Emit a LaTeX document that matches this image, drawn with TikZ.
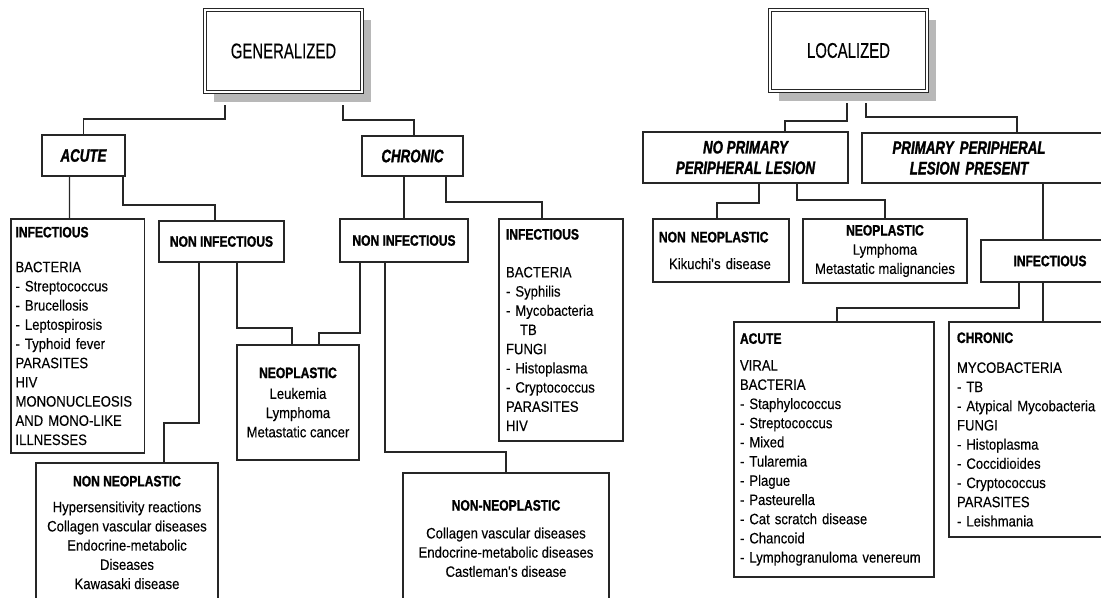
\documentclass[tikz,border=0pt]{standalone}
\usepackage{fontspec}
\setmainfont{Liberation Sans}[FakeStretch=0.87, FakeBold=0.25]
\newfontfamily\cabfont{Liberation Sans Bold}[FakeStretch=0.8, FakeBold=1.2]
\newfontfamily\titulofont{Liberation Sans}[FakeStretch=0.7, FakeBold=0.3]
\newfontfamily\ramafont{Liberation Sans Bold Italic}[FakeStretch=0.74, FakeBold=1.4]
\newcommand\cab[1]{{\cabfont #1}}
\usetikzlibrary{shadows}

\begin{document}
\begin{tikzpicture}[x=0.75pt, y=-0.75pt, line width=0.8pt, black!85,
  raiz/.style={draw, fill=white, double, double distance=1.65pt, line width=0.75pt, outer sep=0pt,
    drop shadow={shadow xshift=6.8pt, shadow yshift=-7.6pt, fill=black!28, opacity=1},
    text=black, font=\titulofont\fontsize{16}{19}\selectfont},
  rama/.style={draw, outer sep=0pt, inner sep=0pt, align=center, text=black,
    font=\ramafont\fontsize{13.5}{15.4}\selectfont},
  caja/.style={draw, outer sep=0pt, inner sep=0pt, align=center, text=black,
    font=\fontsize{11.3}{14.4}\selectfont},
  lista/.style={caja, anchor=north west, align=left}]
  \useasboundingbox (0,0) rectangle (1101,597);

  % Nodos raiz
  \node[raiz, minimum width=117.75pt, minimum height=61.5pt] (gen) at (283.5,51) {GENERALIZED};
  \node[raiz, minimum width=117.75pt, minimum height=60.75pt] (loc) at (848.5,50.5) {LOCALIZED};

  % Agudo y cronico
  \node[rama, minimum width=62.25pt, minimum height=30.75pt] (acute) at (83.5,155.5) {ACUTE};
  \node[rama, minimum width=75.75pt, minimum height=30pt] (chronic) at (412.5,156) {CHRONIC};

  % Rama aguda
  \node[lista, inner xsep=3.4pt, text width=93pt, minimum height=175.5pt] (infA) at (11,219) {\cab{INFECTIOUS}\\[11.7pt]
    BACTERIA\\
    - Streptococcus\\
    - Brucellosis\\
    - Leptospirosis\\
    - Typhoid fever\\
    PARASITES\\
    HIV\\
    MONONUCLEOSIS\\
    AND MONO-LIKE\\
    ILLNESSES};
  \node[caja, minimum width=93.75pt, minimum height=30.75pt] (nonA) at (221.5,241.5) {\cab{NON INFECTIOUS}};
  \node[caja, minimum width=136.5pt, minimum height=104.25pt] (nonneoA) at (127,532.5) {\cab{NON NEOPLASTIC}\\[5pt]
    Hypersensitivity reactions\\ Collagen vascular diseases\\ Endocrine-metabolic\\ Diseases\\ Kawasaki disease};

  % Rama cronica
  \node[caja, minimum width=96pt, minimum height=32.25pt] (nonC) at (404,240.5) {\cab{NON INFECTIOUS}};
  \node[lista, inner xsep=5.25pt, text width=82.5pt, minimum height=166.5pt] (infC) at (499,219) {\cab{INFECTIOUS}\\[14pt]
    BACTERIA\\
    - Syphilis\\
    - Mycobacteria\\
    \hspace*{10.5pt}TB\\
    FUNGI\\
    - Histoplasma\\
    - Cryptococcus\\
    PARASITES\\
    HIV};
  \node[caja, minimum width=154.5pt, minimum height=98.25pt] (nonneoC) at (506,538.5) {\cab{NON-NEOPLASTIC}\\[6.5pt]
    Collagen vascular diseases\\ Endocrine-metabolic diseases\\ Castleman\textquotesingle s disease};

  % Neoplasico comun
  \node[caja, minimum width=91.5pt, minimum height=86.25pt] (neoA) at (298,402.5) {\cab{NEOPLASTIC}\\[1.2pt]
    Leukemia\\ Lymphoma\\ Metastatic cancer};

  % Lado localizado
  \node[rama, minimum width=153.75pt, minimum height=38.25pt] (nopri) at (745.5,157.5) {NO PRIMARY\\PERIPHERAL LESION};
  \node[rama, anchor=north west, text width=193.5pt, align=left, minimum height=37.5pt] (pri) at (862,133)
    {\makebox[160.5pt]{PRIMARY PERIPHERAL}\\\makebox[160.5pt]{LESION PRESENT}};
  \node[lista, inner xsep=4.5pt, text width=93pt, minimum height=47.25pt] (nonneoR) at (653,219) {\cab{NON NEOPLASTIC}\\[5.7pt]
    \hspace*{7.5pt}Kikuchi\textquotesingle s disease};
  \node[caja, minimum width=123pt, minimum height=48pt] (neoR) at (885,251) {\cab{NEOPLASTIC}\\
    Lymphoma\\ Metastatic malignancies};
  \node[caja, minimum width=103.5pt, minimum height=31.5pt] (infR) at (1050,261) {\cab{INFECTIOUS}};
  \node[lista, inner xsep=4.5pt, text width=141pt, minimum height=191.25pt] (acuteR) at (734,322) {\cab{ACUTE}\\[5.7pt]
    VIRAL\\
    BACTERIA\\
    - Staphylococcus\\
    - Streptococcus\\
    - Mixed\\
    - Tularemia\\
    - Plague\\
    - Pasteurella\\
    - Cat scratch disease\\
    - Chancoid\\
    - Lymphogranuloma venereum};
  \node[lista, inner xsep=6pt, text width=116.25pt, minimum height=161.25pt] (chronR) at (949,322) {\cab{CHRONIC}\\[8pt]
    MYCOBACTERIA\\
    - TB\\
    - Atypical Mycobacteria\\
    FUNGI\\
    - Histoplasma\\
    - Coccidioides\\
    - Cryptococcus\\
    PARASITES\\
    - Leishmania};

  % Conexiones generalizado
  \draw ([shift={(-58.5,13)}]gen.south) -- ++(0,14) -| (acute.north);
  \draw ([shift={(59.5,13)}]gen.south) -- ++(0,15) -| ([shift={(1.5,0)}]chronic.north);
  \draw ([shift={(-14,0)}]acute.south) -- ([shift={(-8,0)}]infA.north);
  \draw ([shift={(39.5,0)}]acute.south) -- ++(0,29) -| ([shift={(-6.5,0)}]nonA.north);
  \draw ([shift={(-8.5,0)}]chronic.south) -- (nonC.north);
  \draw ([shift={(33.5,0)}]chronic.south) -- ++(0,26) -| ([shift={(-19,0)}]infC.north);
  \draw ([shift={(-22.5,0)}]nonA.south) -- ++(0,161) -| ([shift={(37,0)}]nonneoA.north);
  \draw ([shift={(15.5,0)}]nonA.south) -- ++(0,66) -| ([shift={(-6,0)}]neoA.north);
  \draw ([shift={(-44,0)}]nonC.south) -- ++(0,71) -| ([shift={(21,0)}]neoA.north);
  \draw ([shift={(-19,0)}]nonC.south) -- ++(0,190) -| (nonneoC.north);

  % Conexiones localizado
  \draw ([shift={(-1.5,12)}]loc.south) -- ++(0,18) -| ([shift={(39.5,0)}]nopri.north);
  \draw ([shift={(17.5,12)}]loc.south) -- ++(0,14) -| ([shift={(26,0)}]pri.north);
  \draw ([shift={(13.5,0)}]nopri.south) -- ++(0,20) -| ([shift={(-4,0)}]nonneoR.north);
  \draw ([shift={(51.5,0)}]nopri.south) -- ++(0,17) -| (neoR.north);
  \draw ([shift={(52,0)}]pri.south) -- ([shift={(-7,0)}]infR.north);
  \draw ([shift={(-31,0)}]infR.south) -- ++(0,26) -| ([shift={(3,0)}]acuteR.north);
  \draw ([shift={(-7,0)}]infR.south) -- ([shift={(8.5,0)}]chronR.north);
\end{tikzpicture}
\end{document}
